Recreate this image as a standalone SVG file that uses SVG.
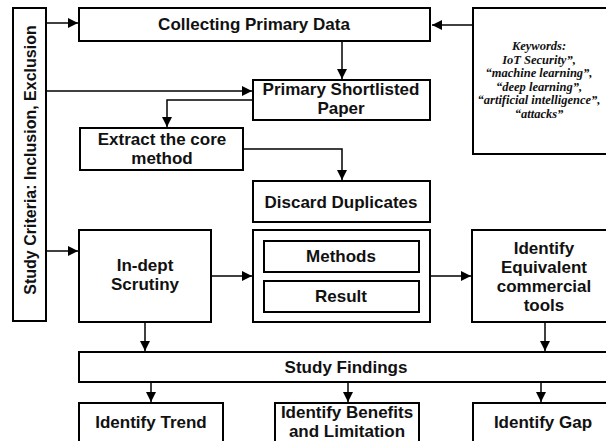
<svg xmlns="http://www.w3.org/2000/svg" width="606" height="441" viewBox="0 0 606 441">
<defs>
<marker id="ah" viewBox="0 0 10 10" refX="10" refY="5" markerWidth="10" markerHeight="10" markerUnits="userSpaceOnUse" orient="auto">
<path d="M0,0 L10,5 L0,10 z" fill="#000"/>
</marker>
<style>
.box{fill:#fff;stroke:#000;stroke-width:2}
.t{font-family:"Liberation Sans",Arial,sans-serif;font-weight:bold;font-size:17px;text-anchor:middle;fill:#111}
.k{font-family:"Liberation Serif","Times New Roman",serif;font-weight:bold;font-style:italic;font-size:12.5px;text-anchor:middle;fill:#111}
.c{fill:none;stroke:#000;stroke-width:1.5}
</style>
</defs>
<rect width="606" height="441" fill="#fff"/>
<g id="criteria">
<rect class="box" x="13" y="8" width="33" height="313"/>
<text class="t" style="font-size:16px" transform="translate(36,160) rotate(-90)">Study Criteria: Inclusion, Exclusion</text>
</g>
<g id="collect">
<rect class="box" x="79" y="8" width="351" height="33"/>
<text class="t" x="254" y="30">Collecting Primary Data</text>
</g>
<g id="keywords">
<rect class="box" x="473" y="8" width="140" height="146"/>
<text class="k" x="539" y="50">Keywords:</text>
<text class="k" x="539" y="63.5">IoT Security”,</text>
<text class="k" x="539" y="77">“machine learning”,</text>
<text class="k" x="539" y="90.5">“deep learning”,</text>
<text class="k" x="539" y="104">“artificial intelligence”,</text>
<text class="k" x="539" y="117.5">“attacks”</text>
</g>
<g id="shortlist">
<rect class="box" x="253" y="80" width="177" height="40"/>
<text class="t" x="341" y="95">Primary Shortlisted</text>
<text class="t" x="341" y="114">Paper</text>
</g>
<g id="extract">
<rect class="box" x="80" y="128" width="163" height="42"/>
<text class="t" x="162" y="145">Extract the core</text>
<text class="t" x="162" y="164">method</text>
</g>
<g id="discard">
<rect class="box" x="253" y="181" width="177" height="41"/>
<text class="t" x="341" y="208">Discard Duplicates</text>
</g>
<g id="scrutiny">
<rect class="box" x="79" y="230" width="132" height="92"/>
<text class="t" x="145" y="271">In-dept</text>
<text class="t" x="145" y="290">Scrutiny</text>
</g>
<g id="methodsresult">
<rect class="box" x="253" y="230" width="177" height="92"/>
<rect class="box" x="264" y="241" width="155" height="31"/>
<text class="t" x="341" y="262">Methods</text>
<rect class="box" x="264" y="281" width="155" height="31"/>
<text class="t" x="341" y="302">Result</text>
</g>
<g id="equivalent">
<rect class="box" x="472" y="230" width="140" height="92"/>
<text class="t" x="544" y="254">Identify</text>
<text class="t" x="544" y="273">Equivalent</text>
<text class="t" x="544" y="292">commercial</text>
<text class="t" x="544" y="311">tools</text>
</g>
<g id="findings">
<rect class="box" x="79" y="352" width="535" height="30"/>
<text class="t" x="346" y="373">Study Findings</text>
</g>
<g id="trend">
<rect class="box" x="79" y="403" width="144" height="45"/>
<text class="t" x="151" y="428">Identify Trend</text>
</g>
<g id="benefits">
<rect class="box" x="275" y="403" width="144" height="45"/>
<text class="t" x="347" y="418">Identify Benefits</text>
<text class="t" x="347" y="437">and Limitation</text>
</g>
<g id="gap">
<rect class="box" x="473" y="403" width="140" height="45"/>
<text class="t" x="543" y="428">Identify Gap</text>
</g>
<g id="connectors">
<path class="c" d="M47,23 H78" marker-end="url(#ah)"/>
<path class="c" d="M473,25 H432" marker-end="url(#ah)"/>
<path class="c" d="M342,41 V79" marker-end="url(#ah)"/>
<path class="c" d="M47,91 H252" marker-end="url(#ah)"/>
<path class="c" d="M253,100 H167 V127" marker-end="url(#ah)"/>
<path class="c" d="M243,149 H342 V180" marker-end="url(#ah)"/>
<path class="c" d="M47,251 H78" marker-end="url(#ah)"/>
<path class="c" d="M211,276 H252" marker-end="url(#ah)"/>
<path class="c" d="M430,276 H471" marker-end="url(#ah)"/>
<path class="c" d="M145,322 V351" marker-end="url(#ah)"/>
<path class="c" d="M545,322 V351" marker-end="url(#ah)"/>
<path class="c" d="M151,382 V402" marker-end="url(#ah)"/>
<path class="c" d="M348,382 V402" marker-end="url(#ah)"/>
<path class="c" d="M541,382 V402" marker-end="url(#ah)"/>
</g>
</svg>
